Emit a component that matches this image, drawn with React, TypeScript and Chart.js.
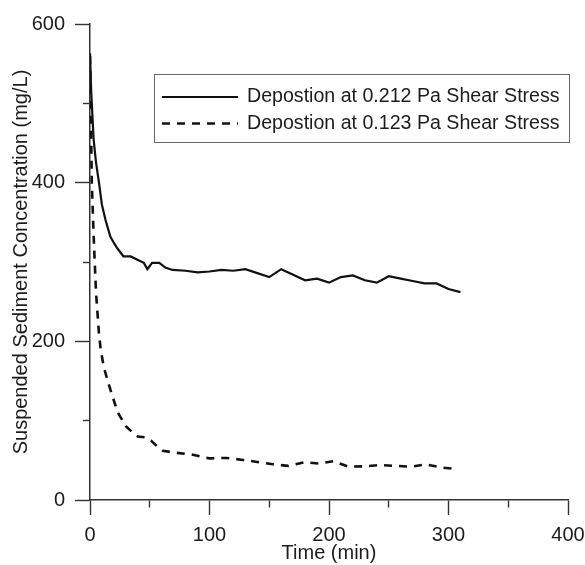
import React, { useEffect, useRef } from 'react';
import { Chart, registerables } from 'chart.js';

Chart.register(...registerables);

// Series labels
const seriesLabels = [
  'Depostion at 0.212 Pa Shear Stress',
  'Depostion at 0.123 Pa Shear Stress',
];

// Deposition at 0.212 Pa (solid)
const timeHigh = [0, 1, 3, 5, 7.5, 10, 13, 17, 20, 23, 28, 34, 41, 45, 48, 52, 58, 63, 69, 80, 90, 100, 110, 120, 130, 140, 150, 160, 170, 180, 190, 200, 210, 220, 230, 240, 250, 260, 270, 280, 290, 300, 310];
const concHigh = [563, 515, 455, 426, 400, 372, 353, 332, 324, 317, 307, 307, 302, 299, 291, 299, 299, 293, 290, 289, 287, 288, 290, 289, 291, 286, 281, 291, 284, 277, 279, 274, 281, 283, 277, 274, 282, 279, 276, 273, 273, 266, 262];

// Deposition at 0.123 Pa (dashed)
const timeLow = [0, 0.5, 1.5, 3, 5, 7.5, 9, 11.5, 15, 19, 23, 30, 35, 40, 46, 51, 56, 61, 72, 86, 100, 114, 128, 140, 153, 166, 179, 192, 204, 216, 230, 242, 256, 269, 281, 294, 308];
const concLow = [560, 515, 400, 335, 262, 210, 189, 168, 149, 130, 111, 93, 86, 80, 79, 75, 68, 62, 59.5, 57, 52.5, 53, 50.5, 48, 45, 43, 47.5, 46, 49, 42, 42.5, 44, 43, 42, 45, 41, 39];

// Axis ticks
const xLabelTicks = [0, 100, 200, 300, 400];
const yLabelTicks = [0, 200, 400, 600];
const xMinorStep = 50;
const yMinorStep = 100;

const xTitle = 'Time (min)';
const yTitle = 'Suspended Sediment Concentration (mg/L)';

const FONT_FAMILY = '"Liberation Sans", Arial, Helvetica, sans-serif';
const TEXT_COLOR = '#1c1c1c';
const AXIS_COLOR = '#333333';

const legendPlugin = {
  id: 'boxLegend',
  afterDraw(chart: any) {
    const { ctx, chartArea } = chart;
    const left = chartArea.left + 64;
    const top = chartArea.top + 50;
    const right = chartArea.right + 1;
    const bottom = top + 68;
    ctx.save();
    ctx.strokeStyle = '#6a6a6a';
    ctx.lineWidth = 1;
    ctx.setLineDash([]);
    ctx.strokeRect(Math.round(left) + 0.5, Math.round(top) + 0.5, right - left, bottom - top);
    const rows = [top + 23, top + 49.5];
    chart.data.datasets.forEach((ds: any, i: number) => {
      const y = rows[i];
      ctx.beginPath();
      ctx.setLineDash(ds.borderDash || []);
      ctx.lineWidth = ds.borderWidth;
      ctx.strokeStyle = ds.borderColor;
      ctx.moveTo(left + 8, y);
      ctx.lineTo(left + 84, y);
      ctx.stroke();
      ctx.setLineDash([]);
      ctx.fillStyle = TEXT_COLOR;
      ctx.font = `19.6px ${FONT_FAMILY}`;
      ctx.textBaseline = 'middle';
      ctx.textAlign = 'left';
      ctx.fillText(ds.label, left + 93, y);
    });
    ctx.restore();
  },
};

export default function App() {
  const canvasRef = useRef<HTMLCanvasElement | null>(null);

  useEffect(() => {
    if (!canvasRef.current) return;
    const font = { family: FONT_FAMILY, size: 20 };
    const chart = new Chart(canvasRef.current, {
      type: 'line',
      data: {
        datasets: [
          {
            label: seriesLabels[0],
            data: timeHigh.map((t, i) => ({ x: t, y: concHigh[i] })),
            borderColor: '#111111',
            borderWidth: 2.2,
            borderDash: [],
            pointRadius: 0,
            fill: false,
            tension: 0,
          },
          {
            label: seriesLabels[1],
            data: timeLow.map((t, i) => ({ x: t, y: concLow[i] })),
            borderColor: '#111111',
            borderWidth: 2.6,
            borderDash: [8, 7],
            pointRadius: 0,
            fill: false,
            tension: 0,
          },
        ],
      },
      options: {
        animation: false,
        responsive: false,
        devicePixelRatio: 1,
        layout: { padding: { left: 0, top: 24, right: 17, bottom: 0 } },
        plugins: {
          legend: { display: false },
          tooltip: { enabled: false },
        },
        scales: {
          x: {
            type: 'linear',
            min: 0,
            max: 400,
            afterFit: (s: any) => {
              s.height = 65;
              s.paddingRight = 0;
              s.paddingLeft = 0;
            },
            ticks: {
              stepSize: xMinorStep,
              autoSkip: false,
              maxRotation: 0,
              padding: 8,
              color: TEXT_COLOR,
              font,
              callback: (v: any) => (xLabelTicks.includes(Number(v)) ? String(v) : ''),
            },
            grid: {
              drawOnChartArea: false,
              drawTicks: true,
              tickLength: 15,
              tickColor: AXIS_COLOR,
              tickWidth: 1.4,
              tickBorderDash: (c: any) => (xLabelTicks.includes(c.tick?.value) ? [] : [7, 30]),
            },
            border: { display: true, color: AXIS_COLOR, width: 1.5 },
            title: {
              display: true,
              text: xTitle,
              color: TEXT_COLOR,
              font,
              padding: { top: 0, bottom: 0 },
            },
          },
          y: {
            type: 'linear',
            min: 0,
            max: 600,
            afterFit: (s: any) => {
              s.width = 90;
            },
            ticks: {
              stepSize: yMinorStep,
              autoSkip: false,
              padding: 10,
              color: TEXT_COLOR,
              font,
              callback: (v: any) => (yLabelTicks.includes(Number(v)) ? String(v) : ''),
            },
            grid: {
              drawOnChartArea: false,
              drawTicks: true,
              tickLength: 15,
              tickColor: AXIS_COLOR,
              tickWidth: 1.4,
              tickBorderDash: (c: any) => (yLabelTicks.includes(c.tick?.value) ? [] : [7, 8]),
              tickBorderDashOffset: (c: any) => (yLabelTicks.includes(c.tick?.value) ? 0 : 7),
            },
            border: { display: true, color: AXIS_COLOR, width: 1.5 },
            title: {
              display: true,
              text: yTitle,
              color: TEXT_COLOR,
              font,
              padding: { top: 9, bottom: 0 },
            },
          },
        },
      },
      plugins: [legendPlugin],
    } as any);
    return () => chart.destroy();
  }, []);

  return (
    <div style={{ position: 'absolute', left: 0, top: 0, width: 585, height: 565, background: '#ffffff' }}>
      <canvas ref={canvasRef} width={585} height={565} style={{ display: 'block' }} />
    </div>
  );
}
